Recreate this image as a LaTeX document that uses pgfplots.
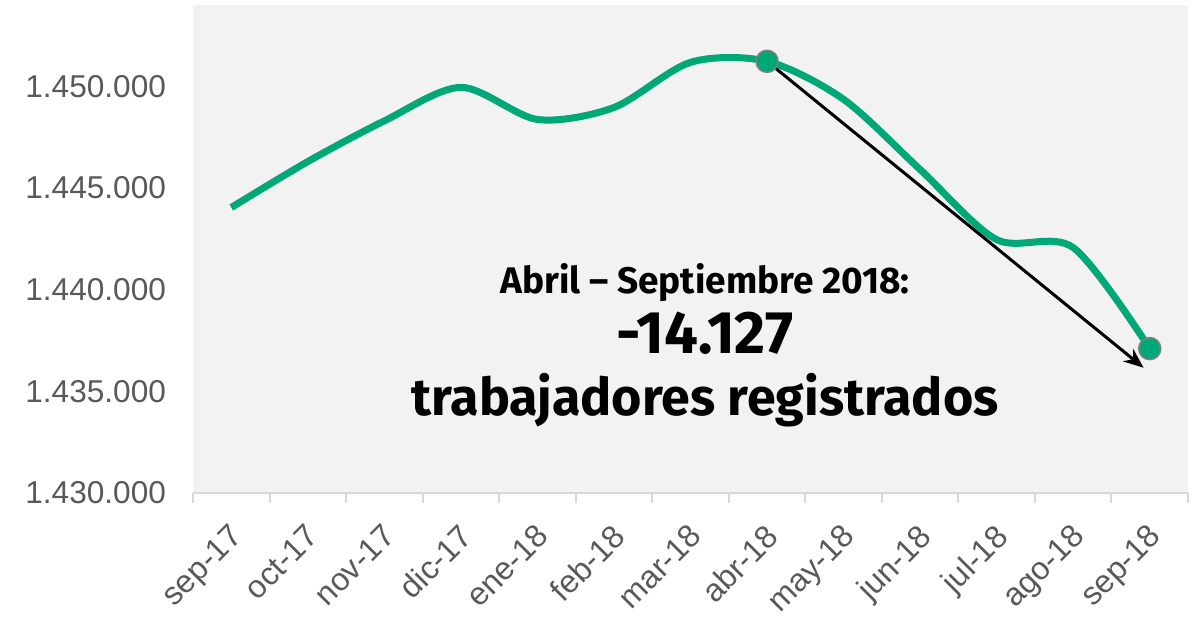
\documentclass[border=0pt]{standalone}
\usepackage{fontspec}
\setmainfont{Fira Sans}
\newfontfamily\tickfont{Liberation Sans}
\usepackage{pgfplots}
\pgfplotsset{compat=1.18}
\usetikzlibrary{arrows.meta,calc}
\definecolor{linegreen}{HTML}{00A878}
\definecolor{plotbg}{HTML}{F2F2F2}
\definecolor{ticktext}{HTML}{595959}
\definecolor{axisline}{HTML}{D9D9D9}

\pgfplotstableread{
x y
0  1444040
1  1446300
2  1448300
3  1449950
4  1448370
5  1448960
6  1451180
7  1451230
8  1449360
9  1445910
10 1442460
11 1442070
12 1437103
}\empleo

\begin{document}
\begin{tikzpicture}
\begin{axis}[
  scale only axis,
  width=497.5pt, height=244pt,
  xmin=-0.5, xmax=12.5,
  ymin=1430000, ymax=1454000,
  axis background/.style={fill=plotbg},
  axis x line*=bottom,
  axis y line*=left,
  x axis line style={draw=axisline, line width=1pt, -},
  y axis line style={draw=none},
  xtick={0,...,12},
  xticklabels={sep-17,oct-17,nov-17,dic-17,ene-18,feb-18,mar-18,abr-18,may-18,jun-18,jul-18,ago-18,sep-18},
  minor xtick={-0.5,0.5,...,12.5},
  major tick length=0pt,
  minor tick length=5pt,
  xtick align=outside,
  minor tick style={draw=axisline, line width=1pt},
  x tick label style={xshift=-1.5pt, yshift=-14.5pt, rotate=45, anchor=north east, font=\tickfont\fontsize{16}{18}\selectfont, text=ticktext, inner sep=0pt},
  ytick={1430000,1435000,1440000,1445000,1450000},
  yticklabels={1.430.000,1.435.000,1.440.000,1.445.000,1.450.000},
  ytick style={draw=none},
  y tick label style={font=\tickfont\fontsize{15.8}{18}\selectfont, text=ticktext, xshift=-10pt},
  scaled y ticks=false,
]
\addplot[linegreen, line width=3.5pt, smooth, tension=0.5] table[x=x,y=y] {\empleo};
\addplot[only marks, mark=*, mark size=5.5pt, mark options={fill=linegreen, draw=gray, line width=0.8pt}]
  coordinates {(7,1451230) (12,1437103)};
\draw[-{Stealth[length=10pt,width=8pt]}, line width=1.5pt, black]
  (axis cs:7,1451230) -- (axis cs:11.92,1436160);
\node[font=\bfseries\fontsize{18.5}{22}\selectfont] at (axis cs:6.19,1440345) {Abril – Septiembre 2018:};
\node[font=\bfseries\fontsize{30}{36}\selectfont] at (axis cs:6.19,1437882) {-14.127};
\node[font=\bfseries\fontsize{26}{31}\selectfont] at (axis cs:6.19,1434581) {trabajadores registrados};
\coordinate (bl) at (rel axis cs:0,0);
\coordinate (tr) at (rel axis cs:1,1);
\end{axis}
\pgfresetboundingbox
\path ($(bl)+(-96.5pt,-61.5pt)$) rectangle ($(tr)+(5.5pt,2.5pt)$);
\end{tikzpicture}
\end{document}
